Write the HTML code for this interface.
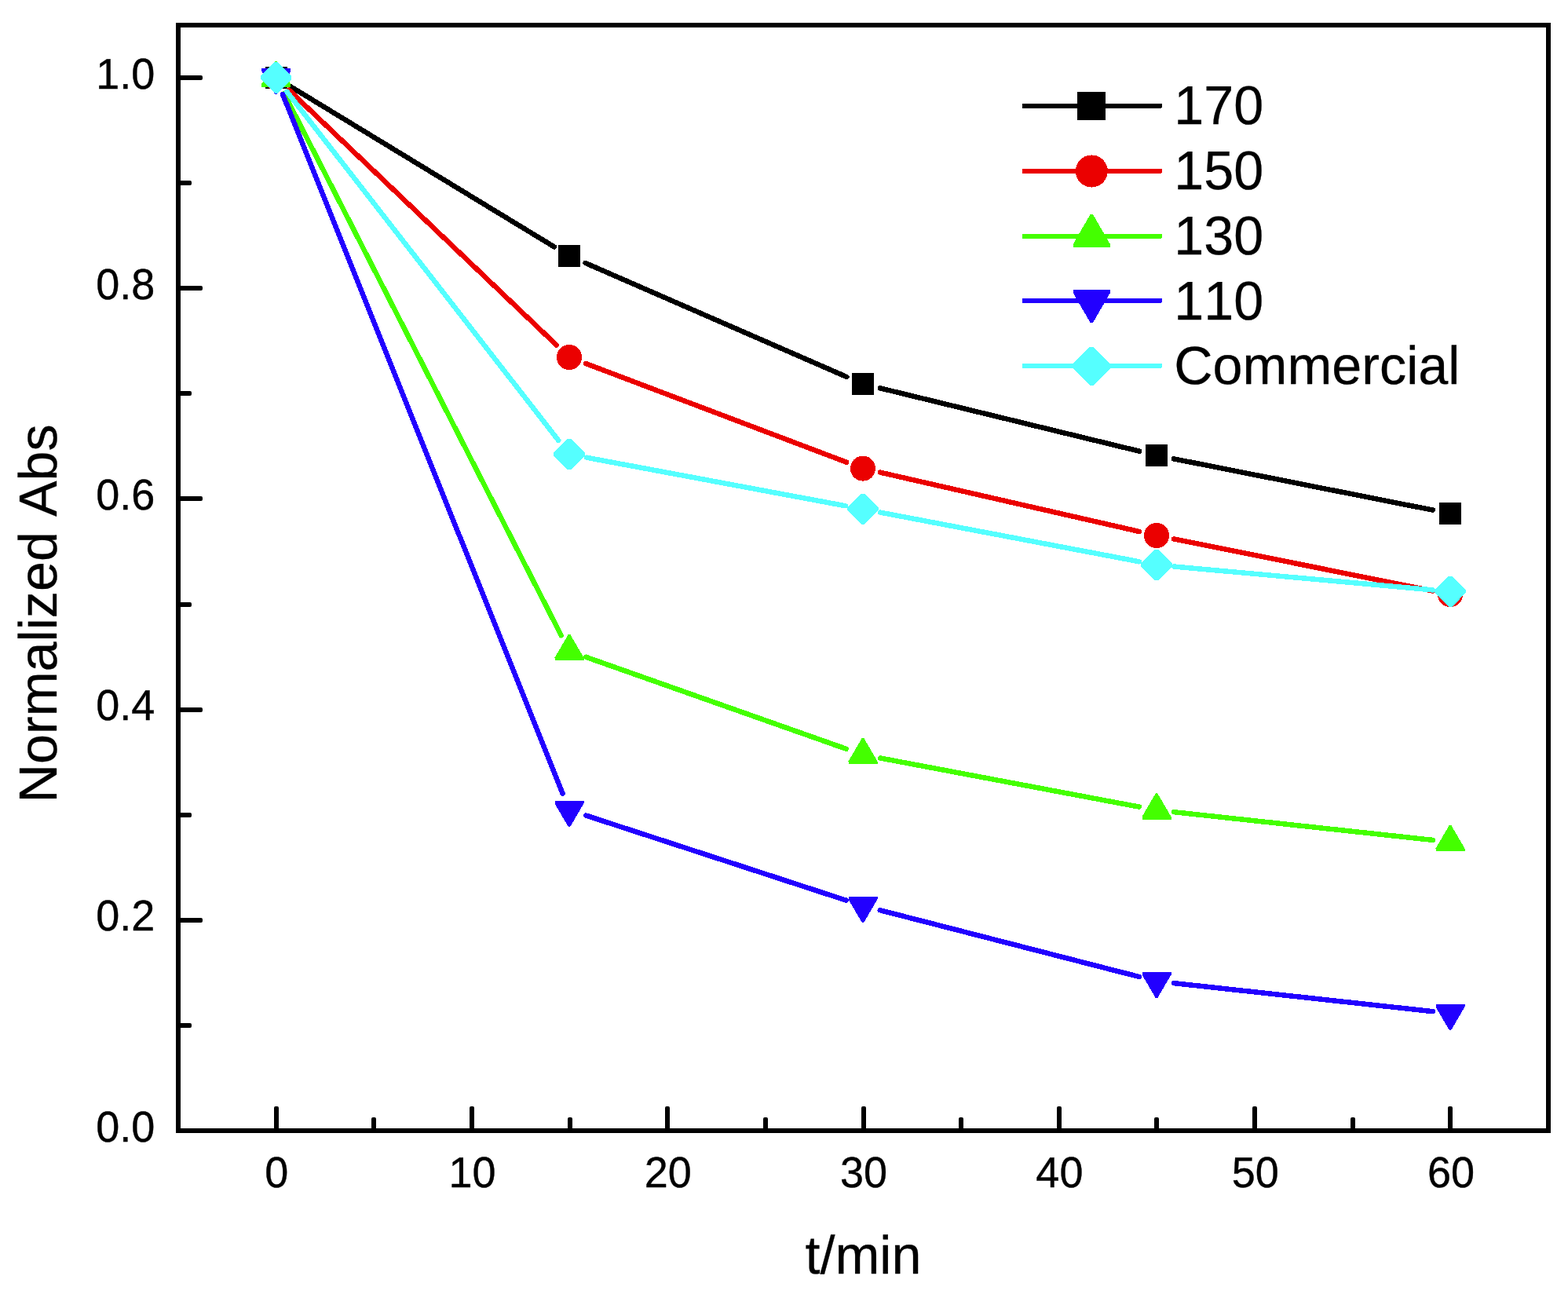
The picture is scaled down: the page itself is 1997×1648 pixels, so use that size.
<!DOCTYPE html>
<html lang="en">
<head>
<meta charset="utf-8">
<title>Normalized Abs vs t/min</title>
<style>
html,body{margin:0;padding:0;background:#fff;}
body{width:1997px;height:1648px;overflow:hidden;}
svg{display:block;}
svg .ticklabels text{stroke-width:0.4px;}
svg text{font-family:"Liberation Sans",sans-serif;fill:#000;stroke:#000;stroke-width:0.3px;stroke-linejoin:round;font-kerning:none;font-variant-ligatures:none;text-rendering:geometricPrecision;}
</style>
</head>
<body>
<svg width="1997" height="1648" viewBox="0 0 1997 1648">
<rect x="0" y="0" width="1997" height="1648" fill="#ffffff"/>
<g class="series" shape-rendering="crispEdges"><path d="M370.83 110.69L705.77 314.31M745.63 334.99L1078.37 480.01M1120.86 494.32L1451.14 574.68M1495.07 584.37L1824.93 649.63" fill="none" stroke="#000000" stroke-width="6.5" stroke-linecap="round"/><rect x="337.6" y="85" width="28" height="28" fill="#000000"/><rect x="711" y="312" width="28" height="28" fill="#000000"/><rect x="1085" y="475" width="28" height="28" fill="#000000"/><rect x="1459" y="566" width="28" height="28" fill="#000000"/><rect x="1833" y="640" width="28" height="28" fill="#000000"/></g>
<g class="series" shape-rendering="crispEdges"><path d="M367.88 114.53L708.72 439.47M746.04 462.97L1077.96 588.63M1120.94 601.61L1451.06 676.99M1495.06 686.42L1824.94 752.58" fill="none" stroke="#EB0000" stroke-width="6.5" stroke-linecap="round"/><circle cx="351.6" cy="99" r="16" fill="#EB0000"/><circle cx="725" cy="455" r="16" fill="#EB0000"/><circle cx="1099" cy="596.6" r="16" fill="#EB0000"/><circle cx="1473" cy="682" r="16" fill="#EB0000"/><circle cx="1847" cy="757" r="16" fill="#EB0000"/></g>
<g class="series" shape-rendering="crispEdges"><path d="M361.84 119.03L714.76 809.27M746.22 836.79L1077.78 953.81M1121.11 965.47L1450.89 1027.63M1495.37 1034.22L1824.63 1069.88" fill="none" stroke="#44FF00" stroke-width="6.5" stroke-linecap="round"/><polygon points="333.1,110.8 370.1,110.8 370.1,107.2 352.8,77.6 350.4,77.6 333.1,107.2" fill="#44FF00"/><polygon points="706.5,841.1 743.5,841.1 743.5,837.5 726.2,807.9 723.8,807.9 706.5,837.5" fill="#44FF00"/><polygon points="1080.5,973.1 1117.5,973.1 1117.5,969.5 1100.2,939.9 1097.8,939.9 1080.5,969.5" fill="#44FF00"/><polygon points="1454.5,1043.6 1491.5,1043.6 1491.5,1040 1474.2,1010.4 1471.8,1010.4 1454.5,1040" fill="#44FF00"/><polygon points="1828.5,1084.1 1865.5,1084.1 1865.5,1080.5 1848.2,1050.9 1845.8,1050.9 1828.5,1080.5" fill="#44FF00"/></g>
<g class="series" shape-rendering="crispEdges"><path d="M359.96 119.89L716.64 1010.71M746.39 1038.58L1077.61 1146.62M1120.79 1159.2L1451.21 1244.1M1495.37 1252.15L1824.63 1288.15" fill="none" stroke="#2200FF" stroke-width="6.5" stroke-linecap="round"/><polygon points="333.1,87.2 370.1,87.2 370.1,90.8 352.8,120.4 350.4,120.4 333.1,90.8" fill="#2200FF"/><polygon points="706.5,1019.8 743.5,1019.8 743.5,1023.4 726.2,1053 723.8,1053 706.5,1023.4" fill="#2200FF"/><polygon points="1080.5,1141.8 1117.5,1141.8 1117.5,1145.4 1100.2,1175 1097.8,1175 1080.5,1145.4" fill="#2200FF"/><polygon points="1454.5,1237.9 1491.5,1237.9 1491.5,1241.5 1474.2,1271.1 1471.8,1271.1 1454.5,1241.5" fill="#2200FF"/><polygon points="1828.5,1278.8 1865.5,1278.8 1865.5,1282.4 1848.2,1312 1845.8,1312 1828.5,1282.4" fill="#2200FF"/></g>
<g class="series" shape-rendering="crispEdges"><path d="M365.42 116.75L711.18 560.85M747.12 582.73L1076.88 644.27M1121.1 652.6L1450.9 715.3M1495.41 721.53L1824.59 751.37" fill="none" stroke="#55FFFF" stroke-width="6.5" stroke-linecap="round"/><polygon points="349.6,79.4 353.6,79.4 371.2,97 371.2,101 353.6,118.6 349.6,118.6 332,101 332,97" fill="#55FFFF"/><polygon points="723,559 727,559 744.6,576.6 744.6,580.6 727,598.2 723,598.2 705.4,580.6 705.4,576.6" fill="#55FFFF"/><polygon points="1097,628.8 1101,628.8 1118.6,646.4 1118.6,650.4 1101,668 1097,668 1079.4,650.4 1079.4,646.4" fill="#55FFFF"/><polygon points="1471,699.9 1475,699.9 1492.6,717.5 1492.6,721.5 1475,739.1 1471,739.1 1453.4,721.5 1453.4,717.5" fill="#55FFFF"/><polygon points="1845,733.8 1849,733.8 1866.6,751.4 1866.6,755.4 1849,773 1845,773 1827.4,755.4 1827.4,751.4" fill="#55FFFF"/></g>
<rect class="frame" x="227" y="32" width="1745" height="1408" fill="none" stroke="#000" stroke-width="6" stroke-linejoin="miter"/>
<g class="ticks"><rect x="227" y="1437" width="31" height="6" rx="2" fill="#000"/><rect x="227" y="1303" width="17" height="6" rx="2" fill="#000"/><rect x="227" y="1169" width="31" height="6" rx="2" fill="#000"/><rect x="227" y="1035" width="17" height="6" rx="2" fill="#000"/><rect x="227" y="901" width="31" height="6" rx="2" fill="#000"/><rect x="227" y="767" width="17" height="6" rx="2" fill="#000"/><rect x="227" y="632" width="31" height="6" rx="2" fill="#000"/><rect x="227" y="498" width="17" height="6" rx="2" fill="#000"/><rect x="227" y="364" width="31" height="6" rx="2" fill="#000"/><rect x="227" y="230" width="17" height="6" rx="2" fill="#000"/><rect x="227" y="96" width="31" height="6" rx="2" fill="#000"/><rect x="349" y="1409" width="6" height="31" rx="2" fill="#000"/><rect x="473" y="1423" width="6" height="17" rx="2" fill="#000"/><rect x="598" y="1409" width="6" height="31" rx="2" fill="#000"/><rect x="723" y="1423" width="6" height="17" rx="2" fill="#000"/><rect x="847" y="1409" width="6" height="31" rx="2" fill="#000"/><rect x="972" y="1423" width="6" height="17" rx="2" fill="#000"/><rect x="1097" y="1409" width="6" height="31" rx="2" fill="#000"/><rect x="1221" y="1423" width="6" height="17" rx="2" fill="#000"/><rect x="1346" y="1409" width="6" height="31" rx="2" fill="#000"/><rect x="1470" y="1423" width="6" height="17" rx="2" fill="#000"/><rect x="1595" y="1409" width="6" height="31" rx="2" fill="#000"/><rect x="1720" y="1423" width="6" height="17" rx="2" fill="#000"/><rect x="1844" y="1409" width="6" height="31" rx="2" fill="#000"/></g>
<g class="ticklabels"><text transform="translate(197.3 1453.6) scale(1 1.02)" font-size="54" text-anchor="end">0.0</text><text transform="translate(197.3 1185.41) scale(1 1.02)" font-size="54" text-anchor="end">0.2</text><text transform="translate(197.3 917.22) scale(1 1.02)" font-size="54" text-anchor="end">0.4</text><text transform="translate(197.3 649.03) scale(1 1.02)" font-size="54" text-anchor="end">0.6</text><text transform="translate(197.3 380.84) scale(1 1.02)" font-size="54" text-anchor="end">0.8</text><text transform="translate(197.3 112.65) scale(1 1.02)" font-size="54" text-anchor="end">1.0</text><text transform="translate(352.24 1511.6) scale(1 1.02)" font-size="54" text-anchor="middle">0</text><text transform="translate(601.53 1511.6) scale(1 1.02)" font-size="54" text-anchor="middle">10</text><text transform="translate(850.81 1511.6) scale(1 1.02)" font-size="54" text-anchor="middle">20</text><text transform="translate(1100.1 1511.6) scale(1 1.02)" font-size="54" text-anchor="middle">30</text><text transform="translate(1349.39 1511.6) scale(1 1.02)" font-size="54" text-anchor="middle">40</text><text transform="translate(1598.67 1511.6) scale(1 1.02)" font-size="54" text-anchor="middle">50</text><text transform="translate(1847.96 1511.6) scale(1 1.02)" font-size="54" text-anchor="middle">60</text></g>
<text class="xtitle" transform="translate(1099.5 1622.4)" font-size="68.3" text-anchor="middle">t/min</text>
<text class="ytitle" transform="translate(72.3 781.4) rotate(-90)" font-size="68.3" text-anchor="middle">Normalized Abs</text>
<g class="legend" shape-rendering="crispEdges"><rect x="1301.5" y="132" width="178.5" height="6" rx="2" fill="#000000"/><rect x="1372.31" y="117.01" width="35.98" height="35.98" fill="#000000"/><text transform="translate(1495.2 158.2) scale(1 1.02)" font-size="68.3">170</text><rect x="1301.5" y="215" width="178.5" height="6" rx="2" fill="#EB0000"/><circle cx="1390.3" cy="218" r="20.56" fill="#EB0000"/><text transform="translate(1495.2 241.2) scale(1 1.02)" font-size="68.3">150</text><rect x="1301.5" y="298" width="178.5" height="6" rx="2" fill="#44FF00"/><polygon points="1366.65,315.4 1413.95,315.4 1413.95,311 1391.9,272.9 1388.7,272.9 1366.65,311" fill="#44FF00"/><text transform="translate(1495.2 324.2) scale(1 1.02)" font-size="68.3">130</text><rect x="1301.5" y="380" width="178.5" height="6" rx="2" fill="#2200FF"/><polygon points="1366.65,368.6 1413.95,368.6 1413.95,373 1391.9,411.1 1388.7,411.1 1366.65,373" fill="#2200FF"/><text transform="translate(1495.2 407) scale(1 1.02)" font-size="68.3">110</text><rect x="1301.5" y="463" width="178.5" height="6" rx="2" fill="#55FFFF"/><polygon points="1388,442 1392.6,442 1414.8,464.2 1414.8,468.8 1392.6,491 1388,491 1365.8,468.8 1365.8,464.2" fill="#55FFFF"/><text transform="translate(1495.2 489.4)" font-size="68.3">Commercial</text></g>
</svg>
</body>
</html>
